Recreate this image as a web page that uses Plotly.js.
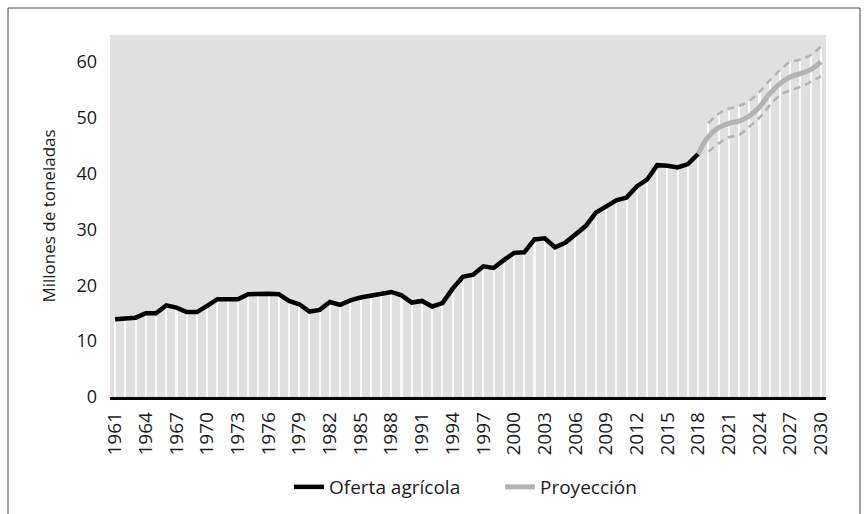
<!DOCTYPE html>
<html>
<head>
<meta charset="utf-8">
<script src="https://cdn.plot.ly/plotly-3.0.1.min.js"></script>
<style>html,body{margin:0;padding:0;background:#fff;}</style>
</head>
<body>
<div id="chart" style="width:867px;height:514px;"></div>
<script>
// Historical data 1961-2018 (millones de toneladas)
var histYears = [];
for (var y = 1961; y <= 2018; y++) histYears.push(y);
var histValues = [
  13.9, 13.95, 14.2, 15.0, 15.0, 16.4, 16.0, 15.2, 15.2, 16.3,
  17.5, 17.5, 17.5, 18.4, 18.5, 18.5, 18.4, 17.2, 16.6, 15.3,
  15.6, 17.0, 16.5, 17.3, 17.8, 18.2, 18.5, 18.8, 18.2, 16.9,
  17.2, 16.2, 16.8, 19.4, 21.5, 21.9, 23.4, 23.1, 24.5, 25.8,
  25.9, 28.2, 28.4, 26.8, 27.6, 29.2, 30.6, 33.0, 34.0, 35.2,
  35.7, 37.7, 38.9, 41.5, 41.4, 41.1, 41.7, 43.5
];
// Projection 2018-2030 (starts at last observed year)
var projYears = [2018, 2019, 2020, 2021, 2022, 2023, 2024, 2025, 2026, 2027, 2028, 2029, 2030];
var projValues = [43.5, 46.6, 48.2, 49.0, 49.4, 50.3, 51.9, 54.3, 56.1, 57.3, 57.9, 58.6, 60.0];
// Projection bounds 2019-2030
var boundYears = [2019, 2020, 2021, 2022, 2023, 2024, 2025, 2026, 2027, 2028, 2029, 2030];
var upperValues = [49.0, 50.7, 51.6, 52.1, 53.0, 54.6, 56.7, 58.5, 60.0, 60.4, 61.2, 62.7];
var lowerValues = [43.9, 45.4, 46.5, 46.9, 48.4, 50.0, 52.2, 54.0, 54.9, 55.5, 56.4, 57.4];

var seriesNames = ["Oferta agrícola", "Proyección"];
var yTitle = "Millones de toneladas";

// drop lines: every year up to the top of its series (upper bound in projection)
var dropX = histYears.concat(boundYears);
var dropY = histValues.concat(upperValues);

var FONT = "Open Sans, Noto Sans, sans-serif";
var gray = "#b3b3b3";
var txt = "#1a1a1a";

var traces = [
  {x: dropX, y: dropY, type: "bar", width: 0.2, marker: {color: "#fafafa", line: {width: 0}},
   showlegend: false, hoverinfo: "skip"},
  {x: boundYears, y: upperValues, type: "scatter", mode: "lines",
   line: {color: gray, width: 2.5, dash: "7px,5px", shape: "spline"}, showlegend: false},
  {x: boundYears, y: lowerValues, type: "scatter", mode: "lines",
   line: {color: gray, width: 2.5, dash: "7px,5px", shape: "spline"}, showlegend: false},
  {x: histYears, y: histValues, type: "scatter", mode: "lines", name: seriesNames[0],
   line: {color: "#000000", width: 4.5}},
  {x: projYears, y: projValues, type: "scatter", mode: "lines", name: seriesNames[1],
   line: {color: gray, width: 5, shape: "spline"}}
];

var L = 110, R = 826, T = 35, B = 397;
var pw = R - L, ph = B - T;
function px(x){ return (x - L) / pw; }
function py(y){ return (B - y) / ph; }

var layout = {
  width: 867, height: 514,
  margin: {l: L, r: 867 - R, t: T, b: 514 - B, autoexpand: false},
  paper_bgcolor: "#ffffff",
  plot_bgcolor: "#e0e0e0",
  font: {family: FONT, size: 17, color: txt},
  bargap: 0,
  showlegend: true,
  legend: {orientation: "h", x: px(289), xanchor: "left", y: py(487), yanchor: "middle",
           font: {family: FONT, size: 19, color: txt}, traceorder: "normal",
           entrywidth: 166, entrywidthmode: "pixels"},
  xaxis: {
    range: [1960.5, 2030.5], tickmode: "linear", tick0: 1961, dtick: 3,
    tickangle: -90, showgrid: false, zeroline: false,
    showline: true, linecolor: "#000000", linewidth: 2.5,
    ticks: "", ticklabelstandoff: 5,
    tickfont: {family: FONT, size: 19, color: txt}
  },
  yaxis: {
    range: [0, 64.8], tickmode: "linear", tick0: 0, dtick: 10,
    showgrid: false, zeroline: false, showline: false, ticks: "",
    ticklabelstandoff: 12,
    tickfont: {family: FONT, size: 18, color: txt},
    title: {text: yTitle, font: {family: FONT, size: 17, color: txt}, standoff: 16}
  },
  shapes: [
    {type: "rect", xref: "paper", yref: "paper",
     x0: px(8), x1: px(860), y0: py(530), y1: py(8),
     line: {color: "#444444", width: 1}, fillcolor: "rgba(0,0,0,0)", layer: "below"}
  ]
};

Plotly.newPlot("chart", traces, layout, {displayModeBar: false, staticPlot: true});
</script>
</body>
</html>
